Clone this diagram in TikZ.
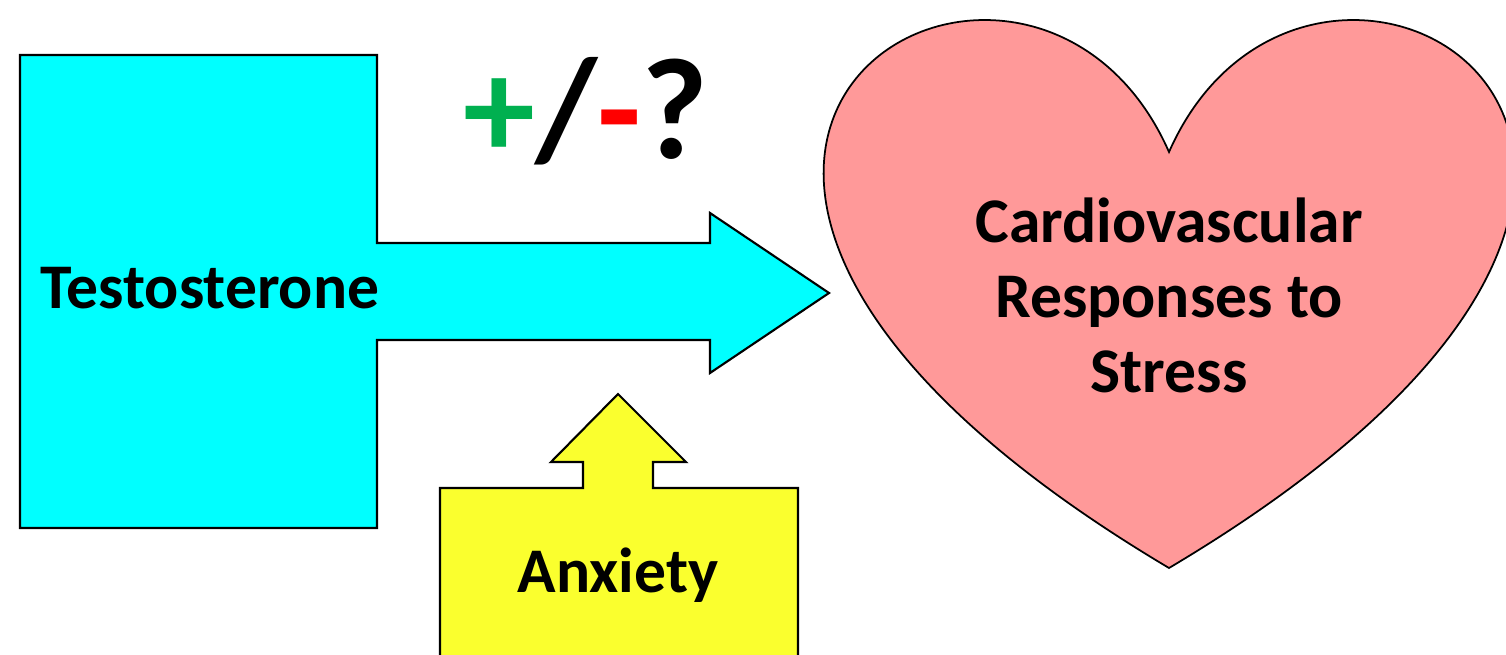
\documentclass[tikz,border=0pt]{standalone}
\usepackage{fontspec}
\setmainfont{Carlito}
\usepackage{xcolor}
\usetikzlibrary{positioning}
\definecolor{tcyan}{RGB}{0,255,255}
\definecolor{ayellow}{RGB}{250,255,46}
\definecolor{hpink}{RGB}{255,153,153}
\definecolor{pgreen}{RGB}{0,176,80}
\definecolor{mred}{RGB}{255,0,0}

\begin{document}
\begin{tikzpicture}[x=0.1mm,y=-0.1mm,
  outline/.style={draw=black,line width=0.6pt,line join=miter},
  lbl/.style={font=\fontsize{18.1}{21.3}\selectfont\bfseries,align=center,anchor=base,inner sep=0pt}]
  \useasboundingbox (0,0) rectangle (1506,655);
  \clip (0,0) rectangle (1506,655);
  % testosterone box with its arrow to the right
  \draw[outline,fill=tcyan] (20,55) -- (377,55) -- (377,243) -- (710,243) -- (710,213) -- (829,293)
    -- (710,373) -- (710,340) -- (377,340) -- (377,528) -- (20,528) -- cycle;
  % anxiety box with its arrow upwards
  \draw[outline,fill=ayellow] (440,670) -- (440,488) -- (583,488) -- (583,462) -- (551,462) -- (618,394)
    -- (686,462) -- (653,462) -- (653,488) -- (798,488) -- (798,670);
  % heart
  \draw[outline,line width=0.5pt,fill=hpink] (1169,152) .. controls (1312,-172) and (1869,152) .. (1169,568)
    .. controls (469,152) and (1026,-172) .. cycle;
  \node[lbl] (testo) at (210,308) {Testosterone};
  \node[lbl] (anx) at (618,592) {Anxiety};
  \node[lbl] (cardio) at (1169,392) {Cardiovascular\\Responses to\\Stress};
  \node[font=\fontsize{41}{49}\selectfont\bfseries,anchor=base,inner sep=0pt] (sign) at (586,159)
    {\textcolor{pgreen}{+}/\textcolor{mred}{-}?};
\end{tikzpicture}
\end{document}
